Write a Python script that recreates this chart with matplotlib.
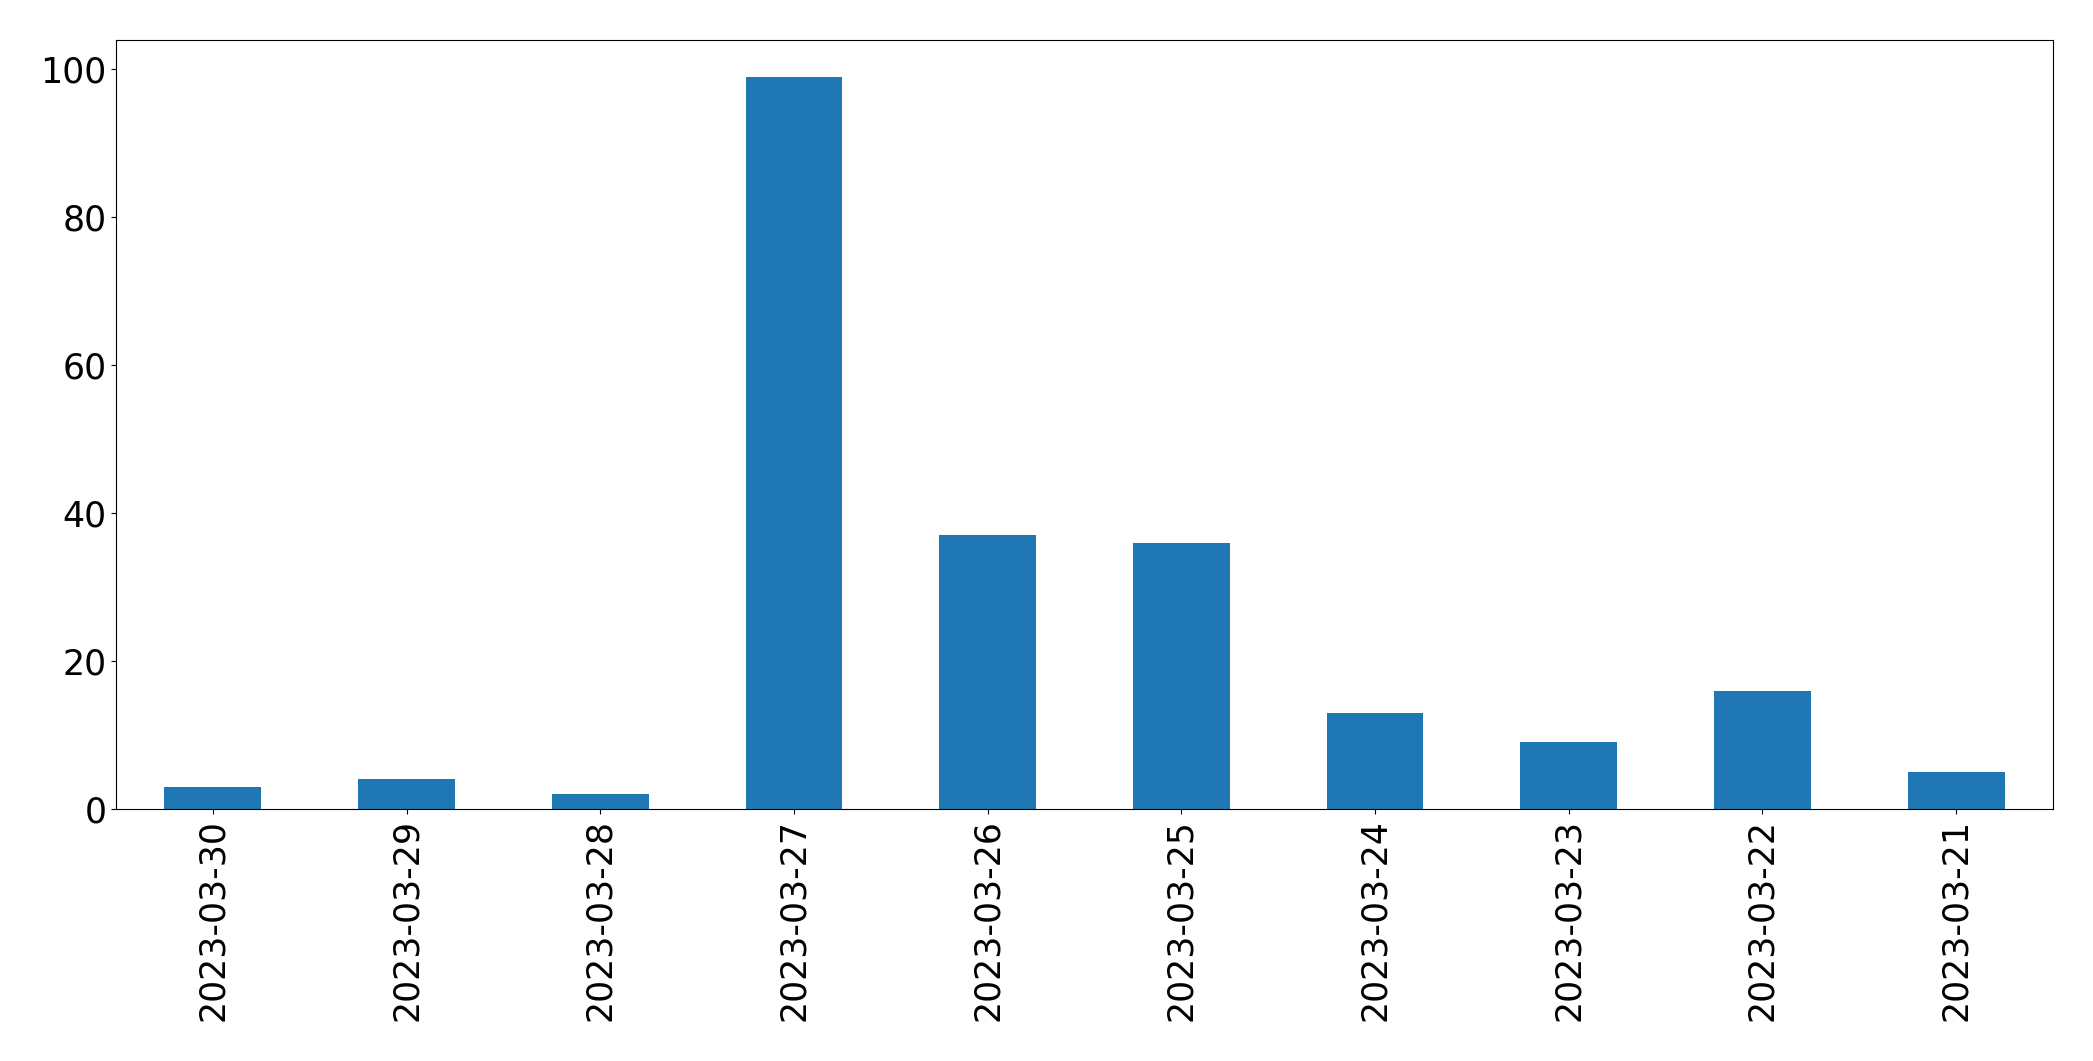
import matplotlib
matplotlib.use("Agg")
import matplotlib.pyplot as plt
import pandas as pd

dates = ["2023-03-30", "2023-03-29", "2023-03-28", "2023-03-27", "2023-03-26",
         "2023-03-25", "2023-03-24", "2023-03-23", "2023-03-22", "2023-03-21"]
counts = [3, 4, 2, 99, 37, 36, 13, 9, 16, 5]

s = pd.Series(counts, index=dates)

fig = plt.figure(figsize=(20.93, 10.61), dpi=100)
ax = fig.add_axes([116 / 2093, 1 - 809 / 1061, (2053 - 116) / 2093, (809 - 40) / 1061])
s.plot(kind="bar", ax=ax, color="#1f77b4", fontsize=25)

fig.savefig("out.png", dpi=100)
